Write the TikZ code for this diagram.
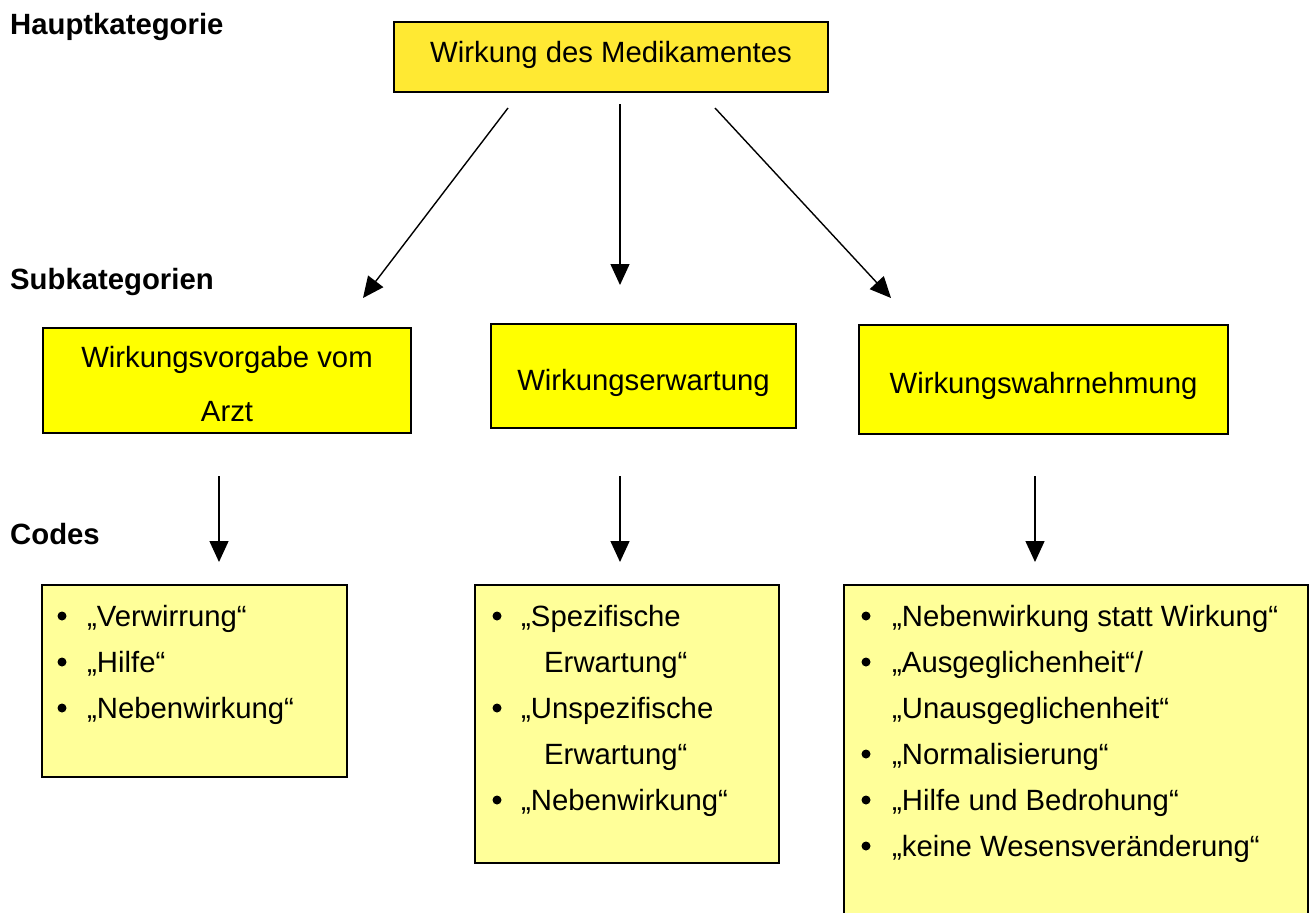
\documentclass[tikz,border=0pt]{standalone}
\usepackage{fontspec}
\setmainfont{Liberation Sans}
\usetikzlibrary{arrows.meta}

\definecolor{mainfill}{HTML}{FFE933}
\definecolor{subfill}{HTML}{FFFF00}
\definecolor{codefill}{HTML}{FFFF99}

\tikzset{
  boxbase/.style={draw=black, line width=1.5pt, rectangle, inner sep=0pt},
  mainbox/.style={boxbase, fill=mainfill},
  subbox/.style={boxbase, fill=subfill},
  codebox/.style={boxbase, fill=codefill},
  txt/.style={inner sep=0pt, font=\fontsize{29.3}{35}\selectfont},
  ctxt/.style={txt, anchor=base},
  ltxt/.style={txt, anchor=base west},
  heading/.style={txt, anchor=base west, font=\fontsize{29.3}{35}\selectfont\bfseries},
  dot/.style={circle, fill=black, inner sep=0pt, minimum size=9pt},
  arr/.style={line width=1.4pt, -{Triangle[length=21pt,width=19pt]}}
}

\begin{document}
\begin{tikzpicture}[x=1pt, y=-1pt]
\useasboundingbox (0,0) rectangle (1312,913);
\clip (0,0) rectangle (1312,913);
\fill[white] (0,0) rectangle (1312,913);

% level headings
\node[heading] (hHaupt) at (10,34) {Hauptkategorie};
\node[heading] (hSub)   at (10,289) {Subkategorien};
\node[heading] (hCodes) at (10,544) {Codes};

% main category
\node[mainbox, minimum width=434pt, minimum height=70pt] (main) at (611,57) {};
\node[ctxt] (mainT) at (611,62) {Wirkung des Medikamentes};

% subcategories
\node[subbox, minimum width=368pt, minimum height=105pt] (sub1) at (227,380.5) {};
\node[ctxt] (sub1a) at (227,367) {Wirkungsvorgabe vom};
\node[ctxt] (sub1b) at (227,421) {Arzt};

\node[subbox, minimum width=305pt, minimum height=104pt] (sub2) at (643.5,376) {};
\node[ctxt] (sub2T) at (643.5,390) {Wirkungserwartung};

\node[subbox, minimum width=369pt, minimum height=109pt] (sub3) at (1043.5,379.5) {};
\node[ctxt] (sub3T) at (1043.5,393) {Wirkungswahrnehmung};

% arrows from the main category
\coordinate (aLs) at (508,108);  \coordinate (aLe) at (363,298);
\coordinate (aMs) at (620,104);  \coordinate (aMe) at (620,285);
\coordinate (aRs) at (715,108);  \coordinate (aRe) at (891,298);
\draw[arr] (aLs) -- (aLe);
\draw[arr] (aMs) -- (aMe);
\draw[arr] (aRs) -- (aRe);

% arrows to the codes
\coordinate (c1s) at (219,476);  \coordinate (c1e) at (219,562);
\coordinate (c2s) at (620,476);  \coordinate (c2e) at (620,562);
\coordinate (c3s) at (1035,476); \coordinate (c3e) at (1035,562);
\draw[arr] (c1s) -- (c1e);
\draw[arr] (c2s) -- (c2e);
\draw[arr] (c3s) -- (c3e);

% codes, first column
\node[codebox, minimum width=305pt, minimum height=192pt] (code1) at (194.5,681) {};
\node[dot] (b11) at (62,616) {};
\node[ltxt] (t11) at (87,626) {„Verwirrung“};
\node[dot] (b12) at (62,662) {};
\node[ltxt] (t12) at (87,672) {„Hilfe“};
\node[dot] (b13) at (62,708) {};
\node[ltxt] (t13) at (87,718) {„Nebenwirkung“};

% codes, second column
\node[codebox, minimum width=304pt, minimum height=278pt] (code2) at (627,724) {};
\node[dot] (b21) at (497,616) {};
\node[ltxt] (t21) at (521,626) {„Spezifische};
\node[ltxt] (t22) at (544,672) {Erwartung“};
\node[dot] (b23) at (497,708) {};
\node[ltxt] (t23) at (521,718) {„Unspezifische};
\node[ltxt] (t24) at (544,764) {Erwartung“};
\node[dot] (b25) at (497,800) {};
\node[ltxt] (t25) at (521,810) {„Nebenwirkung“};

% codes, third column
\node[codebox, minimum width=464pt, minimum height=345pt] (code3) at (1076,757.5) {};
\node[dot] (b31) at (866,616) {};
\node[ltxt] (t31) at (892,626) {„Nebenwirkung statt Wirkung“};
\node[dot] (b32) at (866,662) {};
\node[ltxt] (t32) at (892,672) {„Ausgeglichenheit“/};
\node[ltxt] (t33) at (892,718) {„Unausgeglichenheit“};
\node[dot] (b34) at (866,754) {};
\node[ltxt] (t34) at (892,764) {„Normalisierung“};
\node[dot] (b35) at (866,800) {};
\node[ltxt] (t35) at (892,810) {„Hilfe und Bedrohung“};
\node[dot] (b36) at (866,846) {};
\node[ltxt] (t36) at (892,856) {„keine Wesensveränderung“};
\end{tikzpicture}
\end{document}
